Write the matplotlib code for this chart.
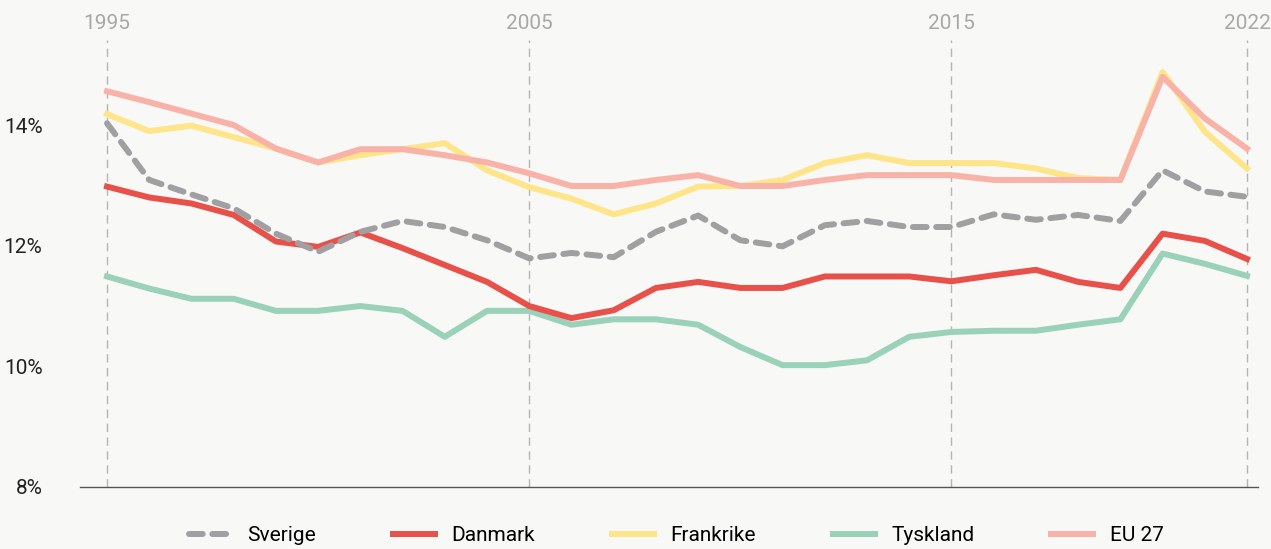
import matplotlib
matplotlib.use("Agg")
import matplotlib.pyplot as plt

years = list(range(1995, 2023))

sverige = [14.03, 13.09, 12.85, 12.62, 12.2, 11.9, 12.23, 12.41, 12.31, 12.09,
           11.79, 11.88, 11.81, 12.23, 12.5, 12.09, 11.99, 12.34, 12.41, 12.31,
           12.31, 12.52, 12.43, 12.51, 12.41, 13.25, 12.9, 12.81]
danmark = [12.98, 12.8, 12.7, 12.51, 12.07, 11.98, 12.22, 11.96, 11.68, 11.4,
           11.0, 10.8, 10.93, 11.3, 11.4, 11.3, 11.3, 11.49, 11.49, 11.49,
           11.41, 11.51, 11.6, 11.4, 11.3, 12.2, 12.08, 11.78]
frankrike = [14.18, 13.9, 13.99, 13.8, 13.61, 13.38, 13.5, 13.6, 13.7, 13.25,
             12.97, 12.78, 12.52, 12.7, 12.98, 12.99, 13.09, 13.37, 13.5, 13.37,
             13.37, 13.37, 13.28, 13.12, 13.09, 14.88, 13.89, 13.28]
tyskland = [11.49, 11.29, 11.12, 11.12, 10.92, 10.92, 11.0, 10.92, 10.49, 10.92,
            10.92, 10.69, 10.78, 10.78, 10.69, 10.32, 10.02, 10.02, 10.1, 10.49,
            10.57, 10.59, 10.59, 10.69, 10.78, 11.87, 11.7, 11.5]
eu27 = [14.56, 14.38, 14.19, 14.0, 13.61, 13.38, 13.6, 13.6, 13.5, 13.38,
        13.2, 12.99, 12.99, 13.09, 13.17, 12.99, 12.99, 13.09, 13.17, 13.17,
        13.17, 13.09, 13.09, 13.09, 13.09, 14.8, 14.11, 13.61]

top_years = [1995, 2005, 2015, 2022]
y_ticks = [8, 10, 12, 14]

bg = '#f8f8f6'
plt.rcParams['font.family'] = ['Roboto', 'DejaVu Sans']

fig = plt.figure(figsize=(12.71, 5.49), dpi=100, facecolor=bg)
ax = fig.add_axes([80 / 1271, 1 - 487 / 549, (1258 - 80) / 1271, (487 - 40) / 549])
ax.set_facecolor(bg)

lw = 4.3
ax.plot(years, tyskland, color='#99d1b9', lw=lw, zorder=2, label='Tyskland')
ax.plot(years, frankrike, color='#ffe58a', lw=lw, zorder=3, label='Frankrike')
ax.plot(years, eu27, color='#f8b2a8', lw=lw, zorder=4, label='EU 27')
ax.plot(years, danmark, color='#e8504a', lw=lw, zorder=5, label='Danmark')
ax.plot(years, sverige, color='#a0a0a2', lw=lw, zorder=6, label='Sverige',
        dashes=(2.3, 1.6), dash_capstyle='round')

for yr in top_years:
    ax.axvline(yr, color='#b5b5b5', lw=1, dashes=(6, 4), zorder=1)

ax.set_xlim(1994.36, 2022.26)
ax.set_ylim(8, 15.41)

ax.xaxis.tick_top()
ax.set_xticks(top_years)
ax.set_xticklabels([str(y) for y in top_years])
ax.tick_params(axis='x', length=0, pad=5, labelsize=15, labelcolor='#a8a8a8')
ax.set_yticks(y_ticks)
ax.set_yticklabels([f'{v}%' for v in y_ticks])
ax.tick_params(axis='y', length=0, pad=27, labelsize=15, labelcolor='#222222')

for s in ['top', 'left', 'right']:
    ax.spines[s].set_visible(False)
ax.spines['bottom'].set_color('#555555')
ax.spines['bottom'].set_linewidth(1)

handles, labels = ax.get_legend_handles_labels()
order = ['Sverige', 'Danmark', 'Frankrike', 'Tyskland', 'EU 27']
hmap = dict(zip(labels, handles))
fig.legend([hmap[k] for k in order], order, loc='center', ncol=5,
           bbox_to_anchor=(0.532, 0.024), frameon=False, fontsize=15,
           handlelength=2.0, handletextpad=0.8, columnspacing=3.7)

fig.savefig('out.png', dpi=100, facecolor=bg)
